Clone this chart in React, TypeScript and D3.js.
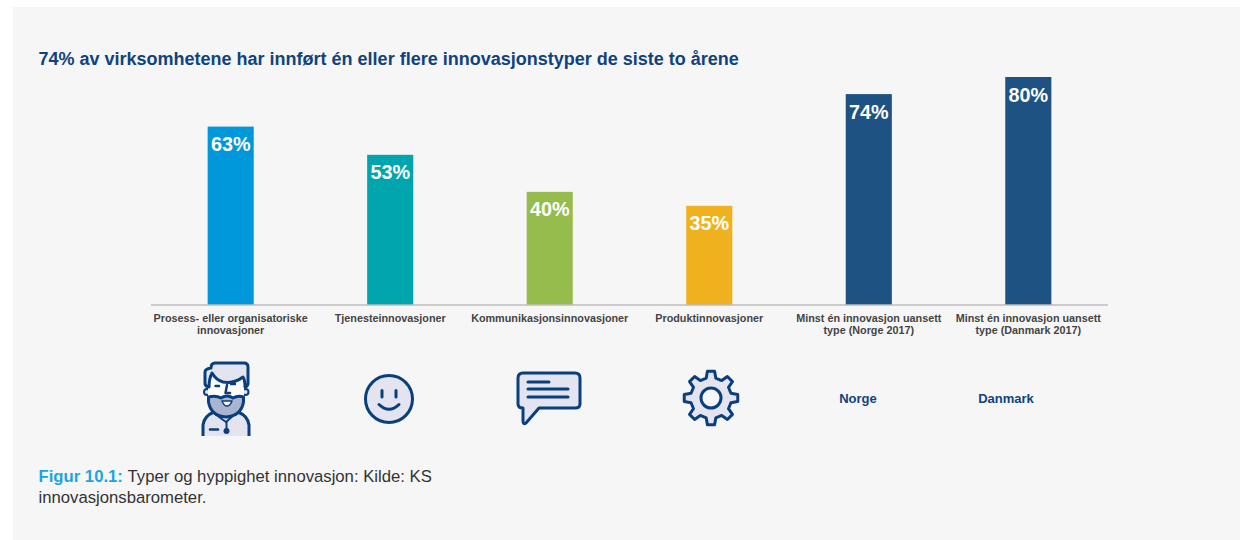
import React from "react";
import * as d3 from "d3";

const categories = ["prosess", "tjeneste", "kommunikasjon", "produkt", "norge", "danmark"];
const values = [62.6, 52.7, 39.7, 34.8, 74, 80];
const valueLabels = ["63%", "53%", "40%", "35%", "74%", "80%"];
const colors = ["#0098DA", "#00A5AE", "#97BC4E", "#EFB21E", "#1D5283", "#1D5283"];
const labelLines = [
  ["Prosess- eller organisatoriske", "innovasjoner"],
  ["Tjenesteinnovasjoner"],
  ["Kommunikasjonsinnovasjoner"],
  ["Produktinnovasjoner"],
  ["Minst én innovasjon uansett", "type (Norge 2017)"],
  ["Minst én innovasjon uansett", "type (Danmark 2017)"],
];
const title = "74% av virksomhetene har innført én eller flere innovasjonstyper de siste to årene";
const font = "'Liberation Sans', Arial, sans-serif";
const navy = "#0A3F7E";
const fillLight = "#E3E4F0";

const x = d3.scaleBand<string>().domain(categories).range([151, 1108]).paddingInner(0.711).paddingOuter(0.355);
const y = d3.scaleLinear().domain([0, 80]).range([305, 77]);

function gearPath(cx: number, cy: number, rOuter: number, rInner: number, teeth: number) {
  const pts: [number, number][] = [];
  const step = (Math.PI * 2) / teeth;
  for (let i = 0; i < teeth; i++) {
    const a = i * step - Math.PI / 2;
    const seq: [number, number][] = [
      [a - step * 0.3, rInner],
      [a - step * 0.17, rOuter],
      [a + step * 0.17, rOuter],
      [a + step * 0.3, rInner],
    ];
    seq.forEach(([t, r]) => pts.push([cx + r * Math.cos(t), cy + r * Math.sin(t)]));
  }
  return d3.line().curve(d3.curveLinearClosed)(pts) as string;
}

const iconStroke = { stroke: navy, strokeWidth: 3, strokeLinecap: "round" as const, strokeLinejoin: "round" as const };

function Person() {
  return (
    <g {...iconStroke}>
      <path d="M203 436 V425 Q204 416 214 412 H238 Q248 416 249 425 V436 Z" fill={fillLight} stroke="none" />
      <path d="M203 436 V425 Q204 416 214 412 M238 412 Q248 416 249 425 V436" fill="none" strokeLinecap="butt" />
      <circle cx={207} cy={392} r={3} fill={fillLight} strokeWidth={2} />
      <circle cx={245.5} cy={392} r={3} fill={fillLight} strokeWidth={2} />
      <rect x={208} y={374} width={36} height={26} fill="#ffffff" stroke="none" />
      <path d="M208.5 397 Q216 395 221 398 Q227 394 233 398 Q238 395 243.5 397 V402 Q241 416 226 417 Q211 416 208.5 402 Z" fill="#A9B4D0" />
      <path d="M222 401 H232 Q230 406 227 406 Q224 406 222 401 Z" fill="#ffffff" strokeWidth={1.5} />
      <path d="M205 384 V372 Q205 369 211 368 Q211 363 215 363 H244 Q248 363 248 367 V384 Q247 387 245 387 Q245 380 243 377 Q234 384 223 382 Q216 380 212 373 Q209 379 209 387 Q206 387 205 384 Z" fill={fillLight} />
      <path d="M215.5 386 H219" fill="none" strokeWidth={2.5} />
      <path d="M231 384 H235" fill="none" strokeWidth={2.5} />
      <path d="M227 385 L225.5 393 H230" fill="none" strokeWidth={2.5} />
      <path d="M215 414 L226 422 L235 414" fill="none" strokeWidth={2} />
      <path d="M226.5 422 V430" fill="none" strokeWidth={2} />
      <circle cx={226.5} cy={431} r={3} fill={navy} stroke="none" />
      <path d="M210 429.5 H218" fill="none" strokeWidth={2.5} />
    </g>
  );
}

function Smiley() {
  return (
    <g {...iconStroke}>
      <circle cx={389} cy={399} r={23.5} fill={fillLight} />
      <path d="M382 390.5 V397 M396 390.5 V397" fill="none" />
      <path d="M379 404.5 Q389 414 399 404.5" fill="none" />
    </g>
  );
}

function Bubble() {
  return (
    <g {...iconStroke}>
      <path d="M523 373 H575 Q580 373 580 378 V404 Q580 408 575 408 H539 L526 423 Q523 425 523 421 V408 Q518 408 518 404 V378 Q518 373 523 373 Z" fill={fillLight} />
      <path d="M528 382 H549 M528 389 H568 M528 397 H568" fill="none" />
    </g>
  );
}

function Gear() {
  return (
    <g {...iconStroke}>
      <path d={gearPath(711, 398, 27, 20.5, 8)} fill={fillLight} />
      <circle cx={711} cy={398} r={10} fill="#F6F6F6" />
    </g>
  );
}

export default function App() {
  return (
    <svg width={1240} height={540} style={{ position: "fixed", left: 0, top: 0, background: "#ffffff" }} fontFamily={font}>
      <rect x={13} y={7} width={1227} height={533} fill="#F6F6F6" />
      <text x={38.5} y={64.5} fontSize={18} fontWeight={700} fill="#0F437F">{title}</text>

      {categories.map((c, i) => (
        <g key={c}>
          <rect x={x(c)} y={y(values[i])} width={x.bandwidth()} height={y(0) - y(values[i])} fill={colors[i]} />
          <text x={x(c)! + x.bandwidth() / 2} y={y(values[i]) + 24.5} textAnchor="middle" fontSize={19.8} fontWeight={700} fill="#ffffff">
            {valueLabels[i]}
          </text>
          {labelLines[i].map((l, j) => (
            <text key={j} x={x(c)! + x.bandwidth() / 2} y={322 + j * 12} textAnchor="middle" fontSize={10.8} fontWeight={700} fill="#444444">
              {l}
            </text>
          ))}
        </g>
      ))}
      <line x1={151} x2={1108} y1={305} y2={305} stroke="#BDBDBD" strokeWidth={1.5} />

      <Person />
      <Smiley />
      <Bubble />
      <Gear />
      <text x={858} y={403} textAnchor="middle" fontSize={13} fontWeight={700} fill="#0F437F">Norge</text>
      <text x={1006} y={403} textAnchor="middle" fontSize={13} fontWeight={700} fill="#0F437F">Danmark</text>

      <text x={38.5} y={482} fontSize={16.7} fill="#333333">
        <tspan fontWeight={700} fill="#1BA5E0">Figur 10.1: </tspan>
        <tspan>Typer og hyppighet innovasjon: Kilde: KS</tspan>
      </text>
      <text x={38.5} y={503} fontSize={16.7} fill="#333333">innovasjonsbarometer.</text>
    </svg>
  );
}
